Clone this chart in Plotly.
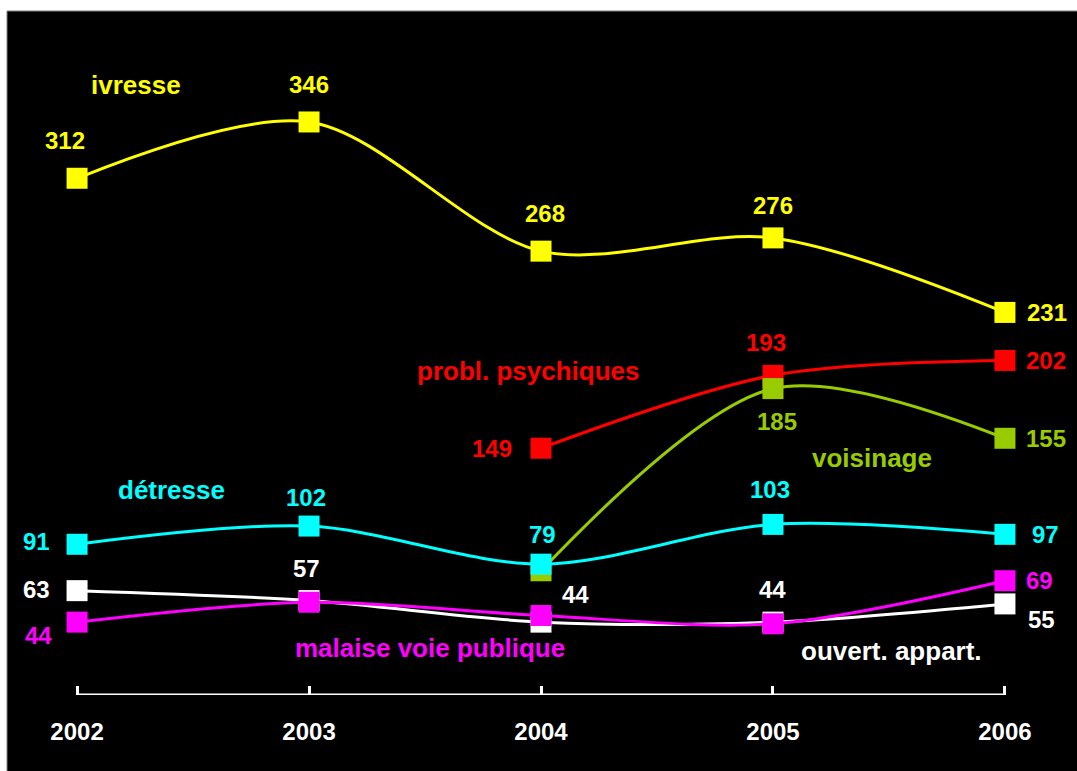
import plotly.graph_objects as go

years = [2002, 2003, 2004, 2005, 2006]
ivresse = [312, 346, 268, 276, 231]
probl_psychiques = [None, None, 149, 193, 202]
voisinage = [None, None, 75, 185, 155]
detresse = [91, 102, 79, 103, 97]
ouvert_appart = [63, 57, 44, 44, 55]
malaise = [44, 56, 48, 43, 69]

YELLOW = "#ffff00"
RED = "#ff0000"
GREEN = "#99cc00"
CYAN = "#00ffff"
WHITE = "#ffffff"
MAGENTA = "#ff00ff"
FONT = "Liberation Sans, Arial, sans-serif"

# drawing order: later ones on top
series = [
    ("ouvert. appart.", ouvert_appart, WHITE),
    ("malaise voie publique", malaise, MAGENTA),
    ("probl. psychiques", probl_psychiques, RED),
    ("voisinage", voisinage, GREEN),
    ("détresse", detresse, CYAN),
    ("ivresse", ivresse, YELLOW),
]

fig = go.Figure()
for name, vals, col in series:
    xs = [x for x, v in zip(years, vals) if v is not None]
    ys = [v for v in vals if v is not None]
    fig.add_trace(go.Scatter(
        x=xs, y=ys, name=name, mode="lines+markers",
        line=dict(color=col, width=3, shape="spline", smoothing=0.9),
        marker=dict(symbol="square", size=21, color=col),
        showlegend=False, hoverinfo="skip",
    ))

# value labels: (series values, color, year index, xshift, yshift)
value_labels = [
    (ivresse, YELLOW, 0, -12, 38), (ivresse, YELLOW, 1, 0, 37), (ivresse, YELLOW, 2, 4, 38),
    (ivresse, YELLOW, 3, 0, 32), (ivresse, YELLOW, 4, 42, 0),
    (probl_psychiques, RED, 2, -49, 0), (probl_psychiques, RED, 3, -7, 33), (probl_psychiques, RED, 4, 41, 0),
    (voisinage, GREEN, 3, 4, -33), (voisinage, GREEN, 4, 41, 0),
    (detresse, CYAN, 0, -41, 3), (detresse, CYAN, 1, -3, 29), (detresse, CYAN, 2, 1, 30),
    (detresse, CYAN, 3, -3, 35), (detresse, CYAN, 4, 41, 0),
    (ouvert_appart, WHITE, 0, -41, 1), (ouvert_appart, WHITE, 1, -3, 32), (ouvert_appart, WHITE, 2, 34, 28),
    (ouvert_appart, WHITE, 3, 0, 33), (ouvert_appart, WHITE, 4, 37, -16),
    (malaise, MAGENTA, 0, -39, -13), (malaise, MAGENTA, 4, 35, 0),
]
for vals, col, i, dx, dy in value_labels:
    fig.add_annotation(x=years[i], y=vals[i], text=str(vals[i]), showarrow=False,
                       xshift=dx, yshift=dy,
                       font=dict(family=FONT, size=24, color=col, weight="bold"))

name_labels = [
    ("ivresse", YELLOW, 2002.254, 368.3),
    ("probl. psychiques", RED, 2003.948, 195.6),
    ("voisinage", GREEN, 2005.427, 143.0),
    ("détresse", CYAN, 2002.405, 123.7),
    ("ouvert. appart.", WHITE, 2005.513, 26.5),
    ("malaise voie publique", MAGENTA, 2003.522, 28.3),
]
for txt, col, x, y in name_labels:
    fig.add_annotation(x=x, y=y, text=txt, showarrow=False,
                       font=dict(family=FONT, size=26, color=col, weight="bold"))

# background panel
fig.add_shape(type="rect", xref="paper", yref="paper", x0=0, x1=1.2, y0=-0.3, y1=1,
              fillcolor="black", line=dict(color="#808080", width=1), layer="below")
# baseline axis line between first and last year
fig.add_shape(type="line", xref="x", yref="y", x0=years[0], x1=years[-1], y0=0, y1=0,
              line=dict(color="white", width=3))

fig.update_layout(
    width=1077, height=771,
    margin=dict(l=7, r=2, t=11, b=76),
    paper_bgcolor="white", plot_bgcolor="rgba(0,0,0,0)",
    xaxis=dict(range=[2001.698, 2006.302], tickvals=years, ticktext=[str(y) for y in years],
               showgrid=False, zeroline=False, showline=False,
               ticks="inside", ticklen=9, tickwidth=3, tickcolor="white",
               tickfont=dict(family=FONT, size=24, color="white", weight="bold"),
               ticklabelstandoff=20),
    yaxis=dict(range=[0, 413], visible=False, showgrid=False, zeroline=False),
)

fig.write_html("out.html", config={"displayModeBar": False, "staticPlot": True},
               post_script="document.body.style.margin='0';document.body.style.overflow='hidden';")
